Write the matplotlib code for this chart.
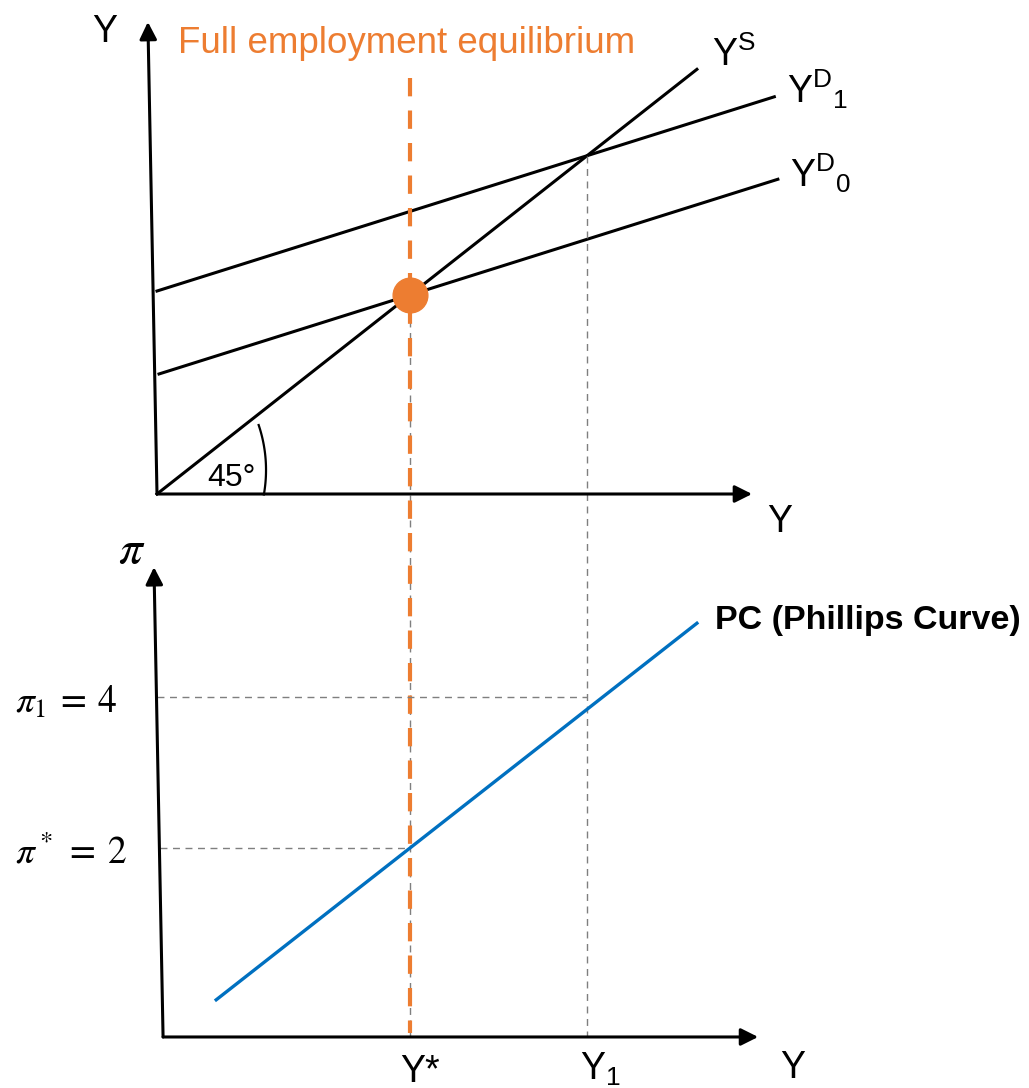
import numpy as np
import matplotlib.pyplot as plt

plt.rcParams['font.family'] = ['Liberation Sans', 'DejaVu Sans']
plt.rcParams['mathtext.fontset'] = 'custom'
plt.rcParams['mathtext.rm'] = 'Liberation Sans'
plt.rcParams['mathtext.it'] = 'Liberation Sans:italic'
plt.rcParams['mathtext.bf'] = 'Liberation Sans:bold'

# % data of the diagram (output Y, planned demand YD, inflation pi)
y_star = 5.0                 # full employment output
y_one = 8.5                  # output after demand shift
yd_intercepts = [3.0, 5.1]   # YD0, YD1
yd_slope = 0.4
yd_x_start = [0.04, 0.0]
yd_x_end = [12.27, 12.2]
ys_x_end = 10.67

pi_star = 2.0
pi_one = 4.0
pc_slope = 0.525
pc_x = [1.17, 10.67]

orange = '#ED7D31'
blue = '#0070C0'
grey = '#7f7f7f'

W, H = 1029, 1088
fig = plt.figure(figsize=(W / 100, H / 100), dpi=100)

# both panels use the whole canvas, each one with its own y scale
ax1 = fig.add_axes([0, 0, 1, 1])
ax2 = fig.add_axes([0, 0, 1, 1])
for ax in (ax1, ax2):
    ax.set_xlim(-157 / 50.6, (W - 157) / 50.6)
    ax.axis('off')
    ax.patch.set_alpha(0)
ax1.set_ylim((494 - H) / 39.8, 494 / 39.8)
ax2.set_ylim((999 - H) / 75.5, 999 / 75.5)


def arrow(ax, start, end):
    ax.annotate('', xy=end, xytext=start,
                arrowprops=dict(arrowstyle='-|>', mutation_scale=26, lw=2.2,
                                color='black', shrinkA=0, shrinkB=0))


# % top panel: 45 degree diagram
arrow(ax1, (0, 0), (-0.18, 11.86))
arrow(ax1, (0, 0), (11.76, 0))

ax1.plot([0, ys_x_end], [0, ys_x_end], color='black', lw=2.2)
for a, x0, x1 in zip(yd_intercepts, yd_x_start, yd_x_end):
    xs = np.array([x0, x1])
    ax1.plot(xs, a + yd_slope * xs, color='black', lw=2.2)

# angle mark (circle drawn in pixel units, centre a bit left of origin)
t = np.radians(np.linspace(-10, 18.6, 60))
ax1.plot(-0.632 + 141 * np.cos(t) / 50.6, 0.603 + 141 * np.sin(t) / 39.8,
         color='black', lw=1.6)

# dashed guide lines
ax1.plot([y_one, y_one], [y_one, (494 - 1037) / 39.8], color=grey, lw=1.0,
         dashes=(5, 4))
ax1.plot([y_star, y_star], [y_star, (494 - 1037) / 39.8], color=grey, lw=1.0,
         dashes=(5, 4))
ax1.plot([y_star, y_star], [10.45, (494 - 1033) / 39.8], color=orange, lw=3.0,
         dashes=(4.4, 3.4))
ax1.plot([y_star], [y_star], 'o', color=orange, ms=25, zorder=5)

# % bottom panel: Phillips curve
arrow(ax2, (0.12, -0.503), (-0.06, 5.72))
arrow(ax2, (0.12, -0.503), (11.88, -0.503))

ax2.plot([0.0, y_one], [pi_one, pi_one], color=grey, lw=1.0, dashes=(5, 4))
ax2.plot([0.06, y_star], [pi_star, pi_star], color=grey, lw=1.0, dashes=(5, 4))

pcx = np.array(pc_x)
ax2.plot(pcx, pi_star + pc_slope * (pcx - y_star), color=blue, lw=2.4)


# % labels (pixel positions of the baselines)
def label(x, y, s, **kw):
    kw.setdefault('fontsize', 27)
    kw.setdefault('va', 'baseline')
    fig.text(x / W, 1 - y / H, s, **kw)


label(105, 42, 'Y', ha='center')
label(178, 53, 'Full employment equilibrium', color=orange, fontsize=26.5)
label(712, 66, r'Y$^{\mathrm{S}}$')
label(787, 103, r'Y$^{\mathrm{D}}{}_{\mathrm{1}}$')
label(790, 187, r'Y$^{\mathrm{D}}{}_{\mathrm{0}}$')
label(780, 532, 'Y', ha='center')
label(207, 486, '45°', fontsize=23)

label(132, 563, r'$\pi$', ha='center', fontsize=34, math_fontfamily='stix')
label(15, 713, r'$\pi_1\:=\:4$', fontsize=27, math_fontfamily='stix')
label(15, 863, r'$\pi^*\:=\:2$', fontsize=27, math_fontfamily='stix')
label(715, 629, 'PC (Phillips Curve)', fontsize=24.5, fontweight='bold')

label(400, 1082, 'Y*')
label(580, 1080, r'Y$_{\mathrm{1}}$')
label(780, 1078, 'Y')

fig.savefig('out.png', dpi=100)
